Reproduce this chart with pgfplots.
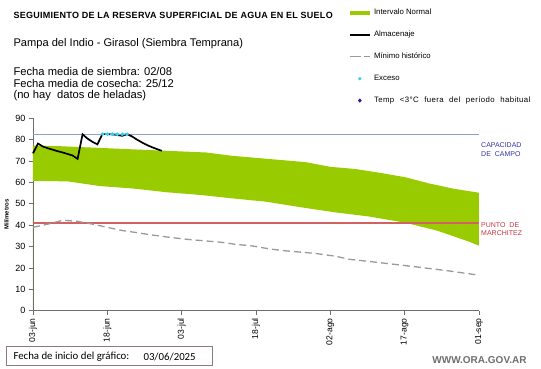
\documentclass[border=0pt]{standalone}
\usepackage{pgfplots}
\pgfplotsset{compat=1.18}
\usepackage{fontspec}
\setmainfont{Liberation Sans}
\newfontfamily\calibri{Carlito}
\definecolor{band}{HTML}{99CC00}
\definecolor{capline}{HTML}{8EA2C8}
\definecolor{redline}{HTML}{D26262}
\definecolor{minline}{HTML}{9A9A9A}
\definecolor{axgray}{HTML}{6E6E6E}
\definecolor{captext}{HTML}{3333AA}
\definecolor{wilttext}{HTML}{CC3344}
\definecolor{boxc}{HTML}{8C7C7C}
\definecolor{exc}{HTML}{33CCEE}
\definecolor{tempc}{HTML}{1A1A99}
\begin{document}
\begin{tikzpicture}
\begin{axis}[
  at={(33pt,57.3pt)}, anchor=south west,
  scale only axis, width=446pt, height=192.4pt,
  xmin=0, xmax=90, ymin=0, ymax=90,
  xtick={0,15,...,90},
  xticklabels={03-jun,18-jun,03-jul,18-jul,02-ago,17-ago,01-sep},
  ytick={0,10,...,90},
  axis x line*=bottom, axis y line*=left,
  axis line style={axgray, line width=0.9pt, -},
  tick style={axgray, line width=0.8pt},
  tick align=outside, major tick length=4pt,
  /pgf/number format/assume math mode=true,
  yticklabel style={font=\fontsize{9}{10}\selectfont},
  xticklabel style={font=\fontsize{8.6}{10}\selectfont, rotate=90, anchor=east},
  ylabel={\textbf{Milímetros}},
  ylabel style={font=\fontsize{6}{7}\selectfont},
  clip=false,
  legend style={at={(axis description cs:0.705,1.578)}, anchor=north west,
    draw=none, fill=none, font=\fontsize{7.8}{9}\selectfont, row sep=10.8pt,
    inner sep=0pt},
  legend cell align=left,
]
\addplot[fill=band, draw=none, forget plot] coordinates {
(0,77.2)(5,77)(10,76.5)(15,76)(20,75.5)(25,75)(30,74.5)(35,74)(40,72.5)(45,71.5)(50,70.5)(55,69.5)(60,67.3)(65,66.3)(70,64.5)(75,62.5)(80,59.5)(85,57)(90,55.2)
(90,30.4)(88,32.3)(81.5,37.5)(75,41.2)(68,44)(61,46)(54,48.4)(47,51)(40,52.6)(34,54.1)(27,55.4)(20,57.2)(13.5,58.3)(7,60.5)(0,60.7)} \closedcycle;
\addplot[color=capline, line width=1pt, forget plot] coordinates {(0,82.5)(90,82.5)};
\addplot[color=redline, line width=1.2pt, forget plot] coordinates {(0,41)(90,41)};
\addplot[color=minline, line width=1.3pt, dash pattern=on 7pt off 4pt, forget plot] coordinates {
(0,39)(3,40.5)(6,42.3)(9,41.8)(12,40.5)(15,39)(18,37.5)(21,36.5)(24,35.4)(28,34.2)(31,33.4)(35,32.6)(38,32)(41,31)(44,30.4)(48,28.8)(51,28)(57,26.8)(61,25.5)(64,24)(68,23)(71,22.2)(77,20.6)(84,18.6)(90,16.6)};
\addplot[color=black, line width=1.7pt, forget plot] coordinates {
(0,73.6)(1,78.2)(2,76.8)(3,76)(4,75.3)(5,74.6)(6,74)(7,73.3)(8,72.6)(9,71)(10,82.5)(11,80.5)(12,79)(13,77.8)(14,82.6)(15,82.6)(16,82.5)(17,82.2)(18,81.8)(19,82.6)(20,81.5)(21,80)(22,78.7)(23,77.5)(24,76.5)(25,75.6)(26,74.8)};
\addplot[color=exc, line width=1.6pt, densely dotted, mark=*, mark size=0.8pt, mark options={solid}, forget plot] coordinates {
(14,82.6)(15,82.6)(16,82.6)(17,82.5)(18,82.5)(19,82.6)};
\addlegendimage{legend image code/.code={\draw[band, line width=4.4pt] (0pt,0pt) -- (20pt,0pt);}}
\addlegendentry{Intervalo Normal}
\addlegendimage{legend image code/.code={\draw[black, line width=1.5pt] (0pt,0pt) -- (20pt,0pt);}}
\addlegendentry{Almacenaje}
\addlegendimage{legend image code/.code={\draw[minline, line width=1.2pt, dash pattern=on 11pt off 3pt on 6pt off 0pt] (0pt,0pt) -- (20pt,0pt);}}
\addlegendentry{Mínimo histórico}
\addlegendimage{legend image code/.code={\fill[exc] (10pt,0pt) circle (1.4pt);}}
\addlegendentry{Exceso}
\addlegendimage{legend image code/.code={\fill[tempc] (10pt,1.8pt) -- (11.5pt,0pt) -- (10pt,-1.8pt) -- (8.5pt,0pt) -- cycle;}}
\addlegendentry{{\addfontfeatures{LetterSpace=5}\spaceskip=5.6pt Temp <3°C fuera del período habitual}}
\end{axis}
\path (0,0) rectangle (541pt,368pt);
\node[anchor=west, font=\bfseries\fontsize{9}{10}\selectfont\addfontfeatures{LetterSpace=3}] at (10pt,353pt) {SEGUIMIENTO DE LA RESERVA SUPERFICIAL DE AGUA EN EL SUELO};
\node[anchor=west, font=\fontsize{11.1}{12}\selectfont] at (10pt,324pt) {Pampa del Indio - Girasol (Siembra Temprana)};
\node[anchor=west, font=\fontsize{11.2}{12}\selectfont] at (10pt,297pt) {Fecha media de siembra: 02/08};
\node[anchor=west, font=\fontsize{11.2}{12}\selectfont] at (10pt,284.7pt) {Fecha media de cosecha: 25/12};
\node[anchor=west, font=\fontsize{11.2}{12}\selectfont] at (10pt,272.3pt) {(no hay\ \ datos de heladas)};
\node[anchor=west, inner sep=0pt, text=captext, font=\fontsize{7}{8}\selectfont] at (481pt,223pt) {CAPACIDAD};
\node[anchor=west, inner sep=0pt, text=captext, font=\fontsize{7}{8}\selectfont] at (481pt,214pt) {DE\ \ CAMPO};
\node[anchor=west, inner sep=0pt, text=wilttext, font=\fontsize{7}{8}\selectfont] at (481pt,143pt) {PUNTO\ \ DE};
\node[anchor=west, inner sep=0pt, text=wilttext, font=\fontsize{7}{8}\selectfont] at (481pt,135pt) {MARCHITEZ};
\node[draw=boxc, line width=0.8pt, anchor=south west, minimum width=206pt, minimum height=19pt, inner sep=0pt] at (6pt,2pt) {};
\node[anchor=west, font=\calibri\fontsize{10.8}{12}\selectfont] at (10pt,11.5pt) {Fecha de inicio del gráfico:};
\node[anchor=west, font=\calibri\fontsize{10.8}{12}\selectfont] at (140pt,11.5pt) {03/06/2025};
\node[anchor=east, text=axgray, font=\bfseries\fontsize{10}{10}\selectfont] at (530pt,8pt) {WWW.ORA.GOV.AR};
\end{tikzpicture}
\end{document}
